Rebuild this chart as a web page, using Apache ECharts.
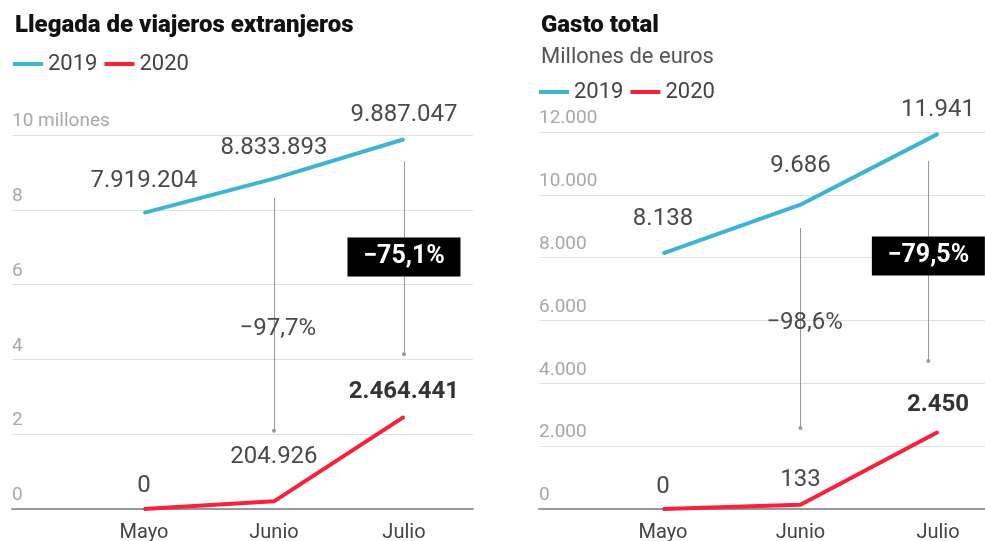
<!DOCTYPE html>
<html>
<head>
<meta charset="utf-8">
<script src="https://cdn.jsdelivr.net/npm/echarts@6/dist/echarts.min.js"></script>
<style>
  html, body { margin: 0; padding: 0; background: #fff; }
  #chart { width: 985px; height: 541px; }
</style>
</head>
<body>
<div id="chart"></div>
<script>
// datos
const months = ['Mayo', 'Junio', 'Julio']
const arrivals2019 = [7919204, 8833893, 9887047]
const arrivals2020 = [0, 204926, 2464441]
const spend2019 = [8138, 9686, 11941]
const spend2020 = [0, 133, 2450]
const arrivalTicks = ['0', '2', '4', '6', '8', '10 millones']
const spendTicks = ['0', '2.000', '4.000', '6.000', '8.000', '10.000', '12.000']

// anotaciones: caída por mes [mes, desde, hasta, texto]
const arrivalDrops = [
  [1, 8320000, 2090000, '−97,7%'],
  [2, 9300000, 4140000, '−75,1%']
]
const spendDrops = [
  [1, 8944, 2578, '−98,6%'],
  [1.93, 11076, 4710, '−79,5%']
]
const arrivalNotePos = [[1.03, 4810000], [2, 6740000]]
const spendNotePos = [[1.03, 5920], [1.93, 8052]]

// separación de las etiquetas respecto al punto
const gapA19 = [19, 18, 11]
const gapA20 = [10, 31, 12]
const gapS19 = [21, 26, 11]
const gapS20 = [9, 12, 14]

const FONT = 'Roboto, "Noto Sans", sans-serif'
const BLUE = '#3db5d2'
const RED = '#f7213a'

const fmt = (v) => String(v).replace(/\B(?=(\d{3})+(?!\d))/g, '.')

function points(values, gaps, boldLast) {
  return values.map((v, i) => ({
    value: [i, v],
    label: {
      distance: gaps[i],
      fontWeight: boldLast && i === values.length - 1 ? 'bold' : 'normal',
      color: boldLast && i === values.length - 1 ? '#333' : '#4a4a4a'
    }
  }))
}

function lineSeries(name, color, idx, values, gaps, boldLast, extra) {
  return Object.assign({
    name: name,
    type: 'line',
    xAxisIndex: idx,
    yAxisIndex: idx,
    symbol: 'circle',
    symbolSize: 2,
    showSymbol: true,
    lineStyle: { color: color, width: 4 },
    itemStyle: { color: color },
    emphasis: { disabled: true },
    label: {
      show: true,
      position: 'top',
      fontFamily: FONT,
      fontSize: 24,
      formatter: (p) => fmt(p.value[1])
    },
    data: points(values, gaps, boldLast)
  }, extra || {})
}

function drops(list, notes) {
  return {
    markLine: {
      silent: true,
      symbol: ['none', 'circle'],
      symbolSize: 4,
      label: { show: false },
      lineStyle: { color: '#999', width: 1, type: 'solid' },
      data: list.map((d) => [{ coord: [d[0], d[1]] }, { coord: [d[0], d[2]] }])
    },
    markPoint: {
      silent: true,
      data: list.map((d, i) => {
        const boxed = i === list.length - 1
        return {
          coord: notes[i],
          symbol: 'rect',
          symbolSize: boxed ? [113, 39] : [1, 1],
          itemStyle: { color: boxed ? '#000' : 'rgba(0,0,0,0)' },
          label: {
            show: true,
            position: 'inside',
            formatter: d[3],
            fontFamily: FONT,
            fontSize: boxed ? 25 : 24,
            fontWeight: boxed ? 'bold' : 'normal',
            color: boxed ? '#fff' : '#4a4a4a'
          }
        }
      })
    }
  }
}

function xAxis(idx, min, max) {
  return {
    type: 'value',
    gridIndex: idx,
    min: min,
    max: max,
    axisLine: { show: true, lineStyle: { color: '#999', width: 2 } },
    axisTick: { show: false },
    splitLine: { show: false },
    axisLabel: {
      customValues: [0, 1, 2],
      formatter: (v) => months[Math.round(v)],
      fontFamily: FONT,
      fontSize: 20,
      color: '#444',
      margin: 14
    }
  }
}

function yAxis(idx, max, interval, ticks) {
  return {
    type: 'value',
    gridIndex: idx,
    min: 0,
    max: max,
    interval: interval,
    axisLine: { show: false },
    axisTick: { show: false },
    splitLine: { lineStyle: { color: '#e2e2e2', width: 1 } },
    axisLabel: {
      inside: true,
      margin: 0,
      align: 'left',
      verticalAlign: 'bottom',
      padding: [0, 0, 4, 0],
      fontFamily: FONT,
      fontSize: 19,
      color: '#a8a8a8',
      formatter: (v) => ticks[Math.round(v / interval)]
    }
  }
}

const chart = echarts.init(document.getElementById('chart'), null, { renderer: 'canvas' })

const legendBase = {
  data: ['2019', '2020'],
  icon: 'rect',
  itemWidth: 30,
  itemHeight: 4,
  itemGap: 7,
  selectedMode: false,
  textStyle: { fontFamily: FONT, fontSize: 22, color: '#444' }
}

chart.setOption({
  backgroundColor: '#fff',
  animation: false,
  title: [
    {
      text: 'Llegada de viajeros extranjeros',
      left: 10,
      top: 9,
      textStyle: { fontFamily: FONT, fontSize: 24, fontWeight: 900, color: '#111' }
    },
    {
      text: 'Gasto total',
      subtext: 'Millones de euros',
      left: 536,
      top: 9,
      itemGap: 8,
      textStyle: { fontFamily: FONT, fontSize: 24, fontWeight: 900, color: '#111' },
      subtextStyle: { fontFamily: FONT, fontSize: 22, color: '#555' }
    }
  ],
  legend: [
    Object.assign({ left: 8, top: 48 }, legendBase),
    Object.assign({ left: 534, top: 76 }, legendBase)
  ],
  grid: [
    { left: 12, width: 461, top: 135, bottom: 32, outerBoundsMode: 'none' },
    { left: 539, right: 0, top: 132, bottom: 32, outerBoundsMode: 'none' }
  ],
  xAxis: [xAxis(0, -1.015, 2.531), xAxis(1, -0.902, 2.342)],
  yAxis: [yAxis(0, 10000000, 2000000, arrivalTicks), yAxis(1, 12000, 2000, spendTicks)],
  series: [
    lineSeries('2019', BLUE, 0, arrivals2019, gapA19, false, drops(arrivalDrops, arrivalNotePos)),
    lineSeries('2020', RED, 0, arrivals2020, gapA20, true),
    lineSeries('2019', BLUE, 1, spend2019, gapS19, false, drops(spendDrops, spendNotePos)),
    lineSeries('2020', RED, 1, spend2020, gapS20, true)
  ]
})
</script>
</body>
</html>
